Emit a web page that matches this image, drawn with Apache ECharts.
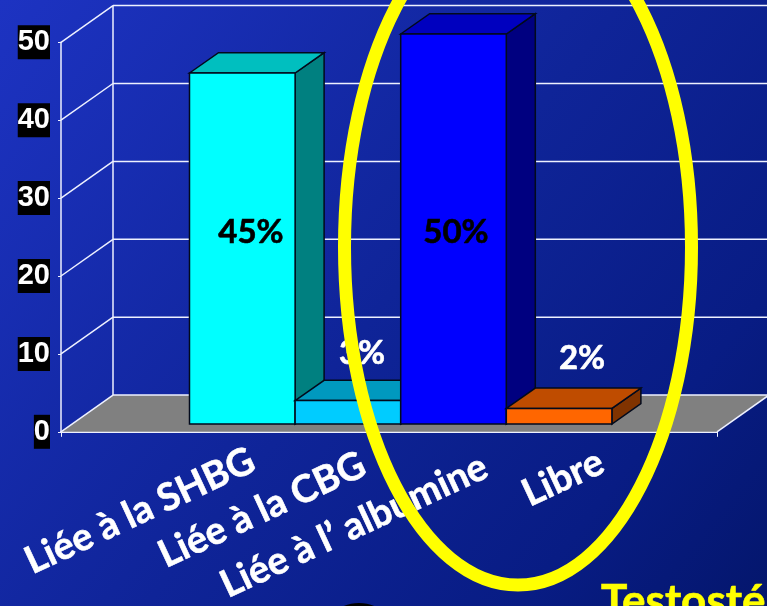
<!DOCTYPE html>
<html>
<head>
<meta charset="utf-8">
<style>
  html, body { margin: 0; padding: 0; background: #0a1f8a; }
  #chart { width: 767px; height: 606px; }
</style>
<script src="https://cdn.jsdelivr.net/npm/echarts@6/dist/echarts.min.js"></script>
</head>
<body>
<div id="chart"></div>
<script>
const categories = ['Liée à la SHBG', 'Liée à la CBG', 'Liée à l’ albumine', 'Libre'];
const values = [45, 3, 50, 2];
const valueLabels = ['45%', '3%', '50%', '2%'];
const yTicks = [0, 10, 20, 30, 40, 50];
const frontColors = ['#00ffff', '#00ccff', '#0000ff', '#ff6600'];
const topColors = ['#00bfbf', '#0099bf', '#0000bf', '#bf4c00'];
const sideColors = ['#008080', '#006680', '#000080', '#803300'];

// depth of the 3d look, in pixels
const wallDx = 52, wallDy = -36.7;
const barDx = 29, barDy = -20.3;

const chart = echarts.init(document.getElementById('chart'));

function poly(points, fill, stroke) {
    return {
        type: 'polygon',
        shape: { points: points },
        style: { fill: fill, stroke: stroke || null, lineWidth: stroke ? 1.5 : 0 }
    };
}

function wallLine(x1, y1, x2, y2) {
    return {
        type: 'line',
        shape: { x1: x1, y1: y1, x2: x2, y2: y2 },
        style: { stroke: '#eef1ff', lineWidth: 1.5 }
    };
}

function renderWalls(params, api) {
    const v = api.value(0);
    const front = api.coord([0, v]);
    const right = api.coord([1, v]);
    const children = [];
    if (v === 0) {
        children.push(poly([
            front,
            right,
            [right[0] + wallDx, right[1] + wallDy],
            [front[0] + wallDx, front[1] + wallDy]
        ], '#808080'));
        const top = api.coord([0, 50]);
        children.push(wallLine(front[0] + wallDx, front[1] + wallDy, front[0] + wallDx, top[1] + wallDy));
        children.push(wallLine(right[0], right[1], right[0] + wallDx, right[1] + wallDy));
    }
    children.push(wallLine(front[0], front[1], front[0] + wallDx, front[1] + wallDy));
    children.push(wallLine(front[0] + wallDx, front[1] + wallDy, right[0] + wallDx, right[1] + wallDy));
    return { type: 'group', children: children };
}

function renderBar(params, api) {
    const i = api.value(0);
    const top = api.coord([i, api.value(1)]);
    const base = api.coord([i, 0]);
    const w = api.size([1, 0])[0];
    const l = top[0] - w / 2, r = top[0] + w / 2;
    const edge = '#020a1c';
    return {
        type: 'group',
        children: [
            poly([[r, top[1]], [r + barDx, top[1] + barDy], [r + barDx, base[1] + barDy], [r, base[1]]], sideColors[i], edge),
            poly([[l, top[1]], [l + barDx, top[1] + barDy], [r + barDx, top[1] + barDy], [r, top[1]]], topColors[i], edge),
            poly([[l, top[1]], [r, top[1]], [r, base[1]], [l, base[1]]], frontColors[i], edge)
        ]
    };
}

const catPos = [[140, 511], [262, 510], [354, 526], [563, 478]];
const valPos = [[251, 232], [362, 353.5], [456, 232], [582, 358]];
const valColors = ['#000000', '#ffffff', '#000000', '#ffffff'];

const option = {
    animation: false,
    backgroundColor: new echarts.graphic.LinearGradient(0, 0, 1, 1, [
        { offset: 0, color: '#1d33c2' },
        { offset: 0.5, color: '#0f2498' },
        { offset: 0.8, color: '#081c84' },
        { offset: 1, color: '#04166c' }
    ]),
    grid: [
        { left: 61, top: 42.3, width: 656, height: 389.5, containLabel: false },
        { left: 189.5, top: 34, width: 422.4, height: 390, containLabel: false }
    ],
    xAxis: [
        {
            gridIndex: 0, type: 'value', min: 0, max: 1, interval: 1,
            axisLine: { show: true, onZero: false, lineStyle: { color: '#eef1ff', width: 1.8 } },
            axisTick: { show: true, length: 5, inside: false, lineStyle: { color: '#eef1ff', width: 1 } },
            axisLabel: { show: false },
            splitLine: { show: false }
        },
        {
            gridIndex: 1, type: 'category', data: categories,
            axisLine: { show: false }, axisTick: { show: false }, axisLabel: { show: false }
        }
    ],
    yAxis: [
        {
            gridIndex: 0, type: 'value', min: yTicks[0], max: yTicks[yTicks.length - 1], interval: 10,
            axisLine: { show: true, lineStyle: { color: '#eef1ff', width: 1.5 } },
            axisTick: { show: true, length: 3, lineStyle: { color: '#eef1ff', width: 1 } },
            splitLine: { show: false },
            axisLabel: {
                color: '#ffffff', fontFamily: 'Liberation Sans', fontWeight: 'bold', fontSize: 29,
                backgroundColor: '#000000', lineHeight: 28, padding: [3, 0, 3, 0], margin: 11,
                showMinLabel: true, showMaxLabel: true
            }
        },
        {
            gridIndex: 1, type: 'value', min: 0, max: 50, show: false
        }
    ],
    series: [
        {
            type: 'custom', xAxisIndex: 0, yAxisIndex: 0, z: 2, clip: false, silent: true,
            data: yTicks.map(t => [t]),
            encode: { y: 0 },
            renderItem: renderWalls
        },
        {
            type: 'custom', xAxisIndex: 1, yAxisIndex: 1, z: 3, clip: false, silent: true,
            data: values.map((v, i) => [i, v]),
            encode: { x: 0, y: 1 },
            renderItem: renderBar
        }
    ],
    graphic: [
        ...categories.map((c, i) => ({
            type: 'text', x: catPos[i][0], y: catPos[i][1], rotation: 25 * Math.PI / 180, z: 20,
            style: { text: c, fill: '#ffffff', stroke: '#ffffff', lineWidth: 0.6, font: 'bold 38px Lato', textAlign: 'center', textVerticalAlign: 'middle' }
        })),
        ...valueLabels.map((t, i) => ({
            type: 'text', x: valPos[i][0], y: valPos[i][1], z: 20,
            style: { text: t, fill: valColors[i], stroke: valColors[i], lineWidth: 0.6, font: 'bold 33px Lato', textAlign: 'center', textVerticalAlign: 'middle' }
        })),
        {
            type: 'ellipse', z: 30, silent: true,
            shape: { cx: 518, cy: 247, rx: 173.5, ry: 338 },
            style: { fill: 'none', stroke: '#ffff00', lineWidth: 13 }
        },
        {
            type: 'ellipse', z: 25, silent: true,
            shape: { cx: 359, cy: 625, rx: 30, ry: 22 },
            style: { fill: '#000000' }
        },
        {
            type: 'text', x: 601, y: 602, z: 30,
            style: { text: 'Testostérone', fill: '#ffff00', stroke: '#ffff00', lineWidth: 0.6, font: 'bold 44px Lato', textAlign: 'left', textVerticalAlign: 'middle' }
        }
    ]
};

chart.setOption(option);
</script>
</body>
</html>
